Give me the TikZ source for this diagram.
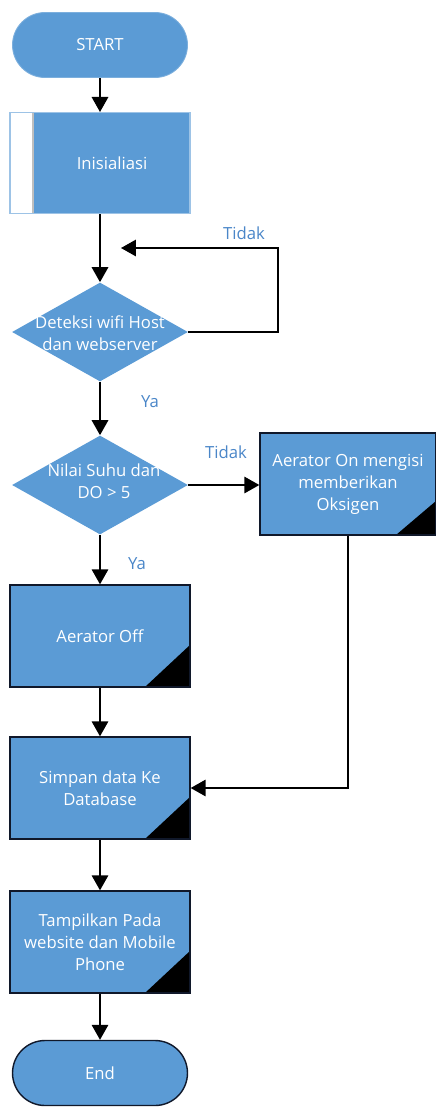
\documentclass[tikz,border=0pt]{standalone}
\usepackage{fontspec}
\setmainfont{Open Sans}
\usetikzlibrary{shapes.geometric,arrows.meta,positioning,calc}
\definecolor{boxblue}{HTML}{5B9BD5}
\definecolor{labelblue}{HTML}{4A86C8}
\definecolor{darkedge}{HTML}{10182A}

\begin{document}
\begin{tikzpicture}[x=0.02cm,y=-0.02cm,
  font=\fontsize{9.5}{12.5}\selectfont,
  term/.style={rectangle,rounded corners=0.65cm,fill=boxblue,minimum width=3.5cm,minimum height=1.3cm,text=white},
  proc/.style={rectangle,fill=boxblue,draw=darkedge,line width=0.8pt,minimum width=3.6cm,minimum height=2.04cm,text=white,align=center,
    path picture={\fill[black] (path picture bounding box.south east) -- ++(0cm,0.84cm) -- ++(-0.9cm,-0.84cm) -- cycle;}},
  initbox/.style={rectangle,fill=boxblue,draw=boxblue!60!white,line width=0.6pt,minimum width=3.6cm,minimum height=2.02cm,
    path picture={\filldraw[fill=white,draw=gray!50] (path picture bounding box.south west) rectangle ++(0.46cm,2.02cm);}},
  dec/.style={diamond,fill=boxblue,minimum width=3.52cm,minimum height=1.98cm,inner sep=0pt},
  txt/.style={text=white,align=center},
  lbl/.style={text=labelblue},
  flow/.style={-{Triangle[width=0.33cm,length=0.3cm]},line width=0.9pt}]
  \useasboundingbox (0,0) rectangle (436,1109);

  % Main column
  \node[term,draw=boxblue!80!white,line width=0.5pt] (start) at (100,45) {START};
  \node[initbox] (init) at (100,163) {};
  \node[txt] (init-t) at (112,163) {Inisialiasi};
  \node[dec] (deteksi) at (100,332) {};
  \node[txt] (deteksi-t) at (100,333) {Deteksi wifi Host\\dan webserver};
  \node[dec] (nilai) at (100,485) {};
  \node[txt] (nilai-t) at (104,481) {Nilai Suhu dan\\DO > 5};
  \node[proc] (aoff) at (100,636) {Aerator Off};
  \node[proc] (simpan) at (100,788) {Simpan data Ke\\Database};
  \node[proc] (tampil) at (100,942) {Tampilkan Pada\\website dan Mobile\\Phone};
  \node[term,draw=darkedge,line width=0.8pt] (end) at (100,1073) {End};

  % Right: aerator on
  \node[proc,minimum width=3.52cm,
    path picture={\fill[black] (path picture bounding box.south east) -- ++(0cm,0.68cm) -- ++(-0.8cm,-0.68cm) -- cycle;}]
    (aon) at (348,484) {Aerator On mengisi\\memberikan\\Oksigen};

  % Labels
  \node[lbl] (tidak1) at (244,233) {Tidak};
  \node[lbl] (ya1) at (150,402) {Ya};
  \node[lbl] (tidak2) at (226,452) {Tidak};
  \node[lbl] (ya2) at (137,564) {Ya};

  % Arrows
  \coordinate (loop-r) at (278,248);
  \coordinate (loop-in) at (121,248);
  \draw[flow] (start) -- (init);
  \draw[flow] (init) -- (deteksi);
  \draw[flow] (deteksi.east) -| (loop-r) -- (loop-in);
  \draw[flow] (deteksi) -- (nilai);
  \draw[flow] (nilai.east) -- (nilai.east -| aon.west);
  \draw[flow] (nilai) -- (aoff);
  \draw[flow] (aoff) -- (simpan);
  \draw[flow] (aon.south) |- (simpan.east);
  \draw[flow] (simpan) -- (tampil);
  \draw[flow] (tampil) -- (end);
\end{tikzpicture}
\end{document}
